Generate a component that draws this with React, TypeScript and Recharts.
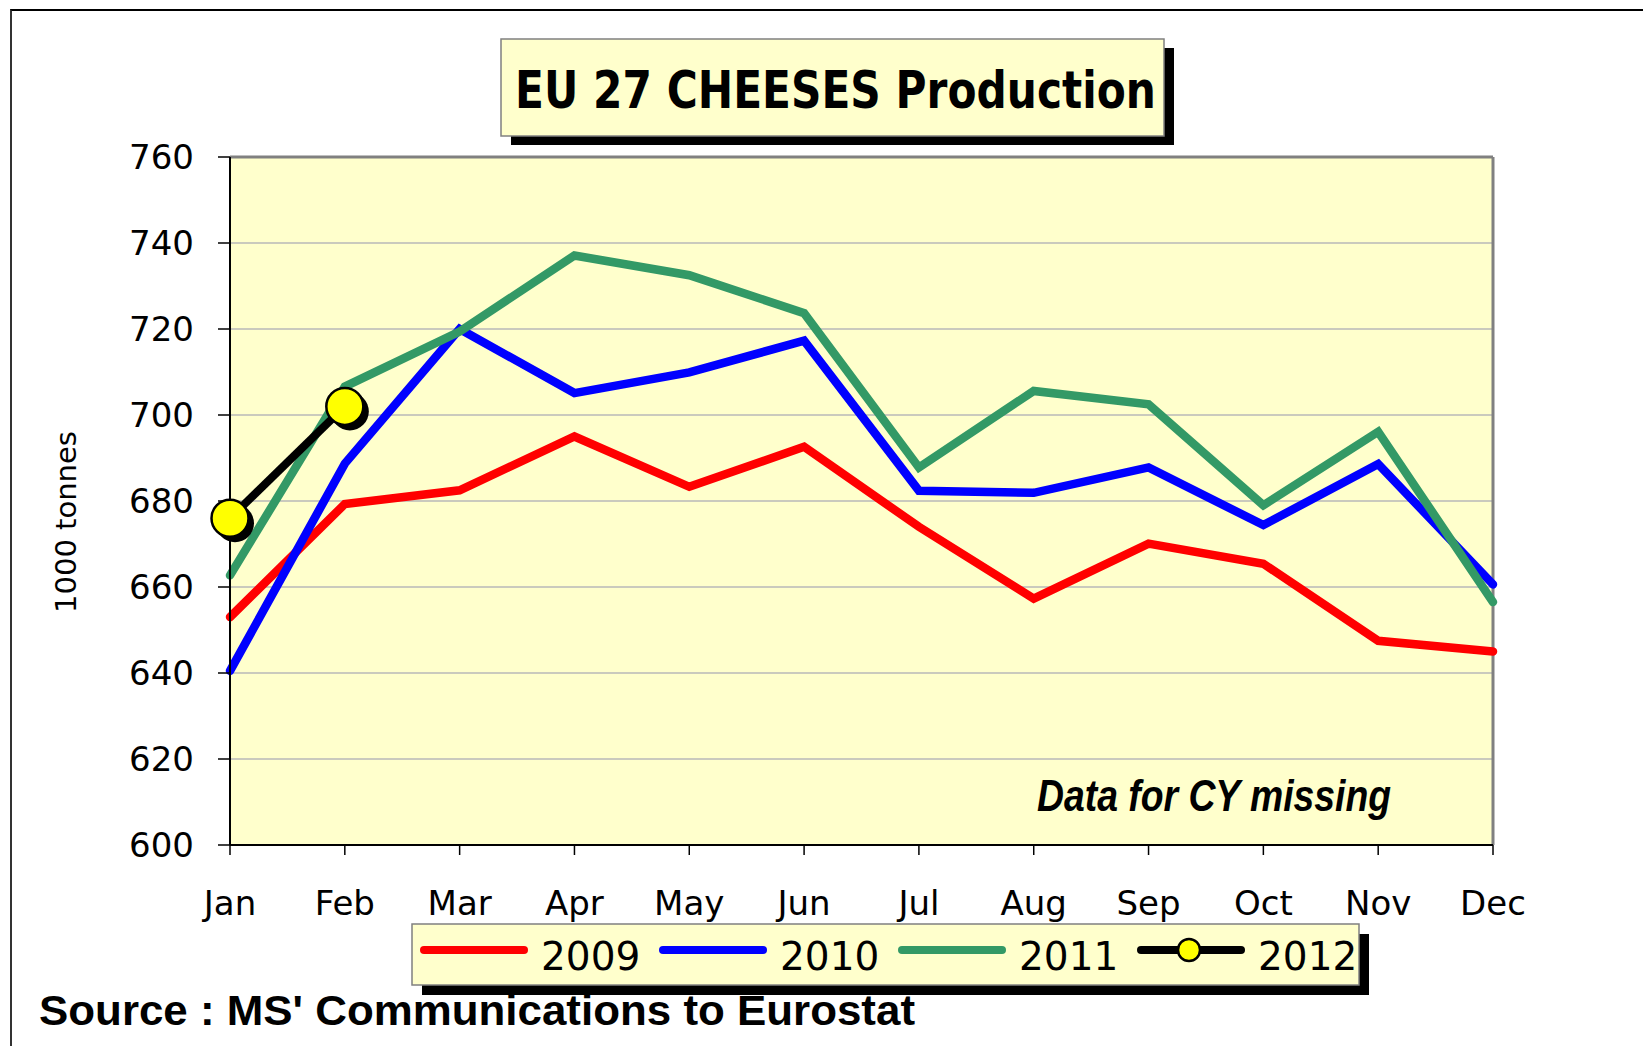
import React from 'react';
import { LineChart, Line, XAxis, YAxis, CartesianGrid, ReferenceLine } from 'recharts';

const months = ['Jan', 'Feb', 'Mar', 'Apr', 'May', 'Jun', 'Jul', 'Aug', 'Sep', 'Oct', 'Nov', 'Dec'];
const y2009 = [653.0, 679.3, 682.5, 695.0, 683.3, 692.6, 674.0, 657.3, 670.1, 665.4, 647.5, 645.0];
const y2010 = [640.5, 688.7, 720.0, 705.1, 709.9, 717.3, 682.4, 681.9, 687.8, 674.4, 688.6, 660.6];
const y2011 = [662.7, 706.6, 719.4, 737.1, 732.5, 723.7, 687.8, 705.6, 702.5, 679.0, 696.1, 656.5];
const y2012 = [676.0, 702.0];
const yTicks = [600, 620, 640, 660, 680, 700, 720, 740, 760];

const series = [
  { key: 'y2009', name: '2009', color: '#FF0000' },
  { key: 'y2010', name: '2010', color: '#0000FF' },
  { key: 'y2011', name: '2011', color: '#339966' },
  { key: 'y2012', name: '2012', color: '#000000' }
];

const data = months.map((m, i) => ({
  month: m,
  y2009: y2009[i],
  y2010: y2010[i],
  y2011: y2011[i],
  y2012: i < y2012.length ? y2012[i] : null
}));

const tickFont = 'DejaVu Sans, sans-serif';

// yellow marker with a black drop shadow
const YellowDot = (props: any) => {
  const { cx, cy, index } = props;
  if (cx == null || cy == null) return null;
  return (
    <g key={`dot-${index}`}>
      <circle cx={cx + 5} cy={cy + 5} r={19} fill="#000" />
      <circle cx={cx} cy={cy} r={18.5} fill="#FFFF00" stroke="#000" strokeWidth={2.5} />
    </g>
  );
};

export default function App() {
  return (
    <div style={{ position: 'absolute', left: 0, top: 0, width: 1643, height: 1046, background: '#fff' }}>
      {/* outer frame: only top and left visible */}
      <div
        style={{
          position: 'absolute', left: 10, top: 9, width: 1633, height: 1037,
          borderTop: '2px solid #000', borderLeft: '2px solid #333', boxSizing: 'border-box'
        }}
      />
      <div style={{ position: 'absolute', left: 0, top: 0 }}>
        <LineChart
          width={1643}
          height={1046}
          data={data}
          margin={{ top: 157, right: 150, left: 150, bottom: 141 }}
        >
          <CartesianGrid vertical={false} fill="#FFFFCC" stroke="#B8B8B8" strokeWidth={1.5} />
          <XAxis
            dataKey="month"
            height={60}
            axisLine={{ stroke: '#000', strokeWidth: 2 }}
            tickLine={{ stroke: '#000', strokeWidth: 1.5 }}
            tickSize={10}
            tickMargin={36}
            tick={{ fontSize: 34, fill: '#000', fontFamily: tickFont }}
            interval={0}
          />
          <YAxis
            width={80}
            domain={[600, 760]}
            ticks={yTicks}
            allowDataOverflow
            axisLine={{ stroke: '#000', strokeWidth: 2 }}
            tickLine={{ stroke: '#000', strokeWidth: 1.5 }}
            tickSize={12}
            tickMargin={24}
            tick={{ fontSize: 34, fill: '#000', fontFamily: tickFont }}
          />
          <ReferenceLine y={760} stroke="#808080" strokeWidth={3} />
          <ReferenceLine x="Dec" stroke="#808080" strokeWidth={3} />
          {series.slice(0, 3).map((s) => (
            <Line
              key={s.key}
              type="linear"
              dataKey={s.key}
              name={s.name}
              stroke={s.color}
              strokeWidth={8.5}
              strokeLinecap="round"
              dot={false}
              activeDot={false}
              isAnimationActive={false}
            />
          ))}
          <Line
            type="linear"
            dataKey="y2012"
            name="2012"
            stroke="#000"
            strokeWidth={8}
            dot={<YellowDot />}
            activeDot={false}
            connectNulls={false}
            isAnimationActive={false}
          />
        </LineChart>
      </div>

      <svg
        width={1643}
        height={1046}
        style={{ position: 'absolute', left: 0, top: 0, pointerEvents: 'none' }}
      >
        {/* title box */}
        <rect x={511} y={48} width={663} height={97} fill="#000" />
        <rect x={501} y={39} width={663} height={97} fill="#FFFFCC" stroke="#808080" strokeWidth={1.5} />
        <text
          x={515}
          y={108}
          fontSize={52}
          fontWeight="bold"
          fontFamily={tickFont}
          textLength={641}
          lengthAdjust="spacingAndGlyphs"
          fill="#000"
        >
          EU 27 CHEESES Production
        </text>

        {/* y axis title */}
        <text
          x={66}
          y={522}
          transform="rotate(-90, 66, 522)"
          textAnchor="middle"
          dominantBaseline="central"
          fontSize={29}
          fontFamily={tickFont}
          fill="#000"
        >
          1000 tonnes
        </text>

        {/* note */}
        <text
          x={1037}
          y={811}
          fontSize={44}
          fontWeight="bold"
          fontStyle="italic"
          fontFamily="Liberation Sans, Arial, sans-serif"
          textLength={354}
          lengthAdjust="spacingAndGlyphs"
          fill="#000"
        >
          Data for CY missing
        </text>

        {/* legend */}
        <rect x={422} y={934} width={947} height={61} fill="#000" />
        <rect x={412} y={924} width={947} height={61} fill="#FFFFCC" stroke="#808080" strokeWidth={1.5} />
        {series.map((s, i) => {
          const x0 = 424 + i * 239;
          return (
            <g key={s.key}>
              <line x1={x0} y1={950} x2={x0 + 100} y2={950} stroke={s.color} strokeWidth={8} strokeLinecap="round" />
              {s.key === 'y2012' && (
                <circle cx={x0 + 48} cy={950} r={11} fill="#FFFF00" stroke="#000" strokeWidth={2.5} />
              )}
              <text x={x0 + 117} y={970} fontSize={39} fontFamily={tickFont} fill="#000">
                {s.name}
              </text>
            </g>
          );
        })}

        {/* source */}
        <text
          x={39}
          y={1025}
          fontSize={42}
          fontWeight="bold"
          fontFamily="Liberation Sans, Arial, sans-serif"
          textLength={876}
          lengthAdjust="spacingAndGlyphs"
          fill="#000"
        >
          Source : MS' Communications to Eurostat
        </text>
      </svg>
    </div>
  );
}
